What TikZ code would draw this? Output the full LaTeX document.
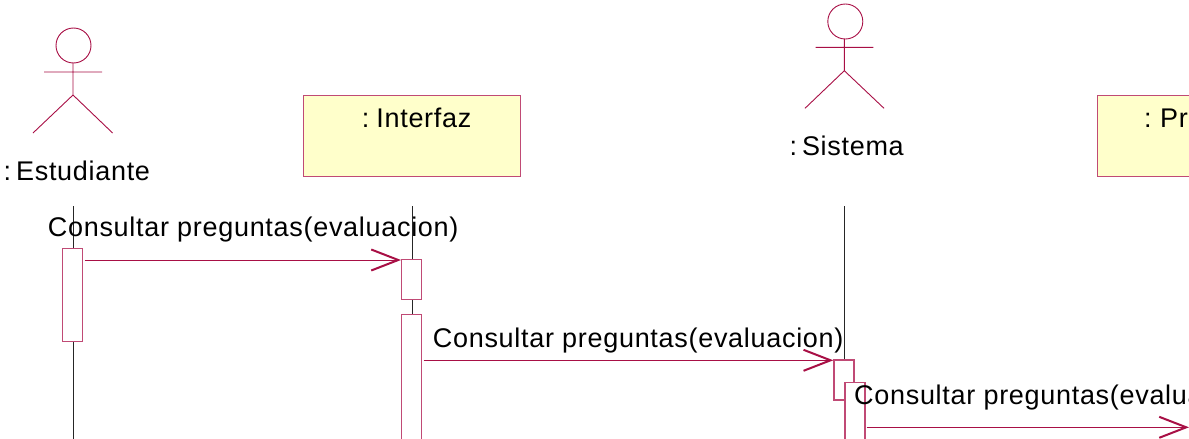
\documentclass[tikz,border=0pt]{standalone}
\usepackage{fontspec}
\setmainfont{Liberation Sans}
\newfontfamily\msgfont[LetterSpace=2.6]{Liberation Sans}
\usetikzlibrary{arrows.meta}
\definecolor{umlred}{HTML}{A80F45}
\definecolor{umlpink}{HTML}{C04A75}
\definecolor{umlyellow}{HTML}{FFFFCB}
\tikzset{
  umlline/.style={umlred,line width=0.9pt},
  lifeline/.style={black!85,line width=1pt},
  msgline/.style={umlred,line width=1pt,-{Straight Barb[length=27pt,width=21pt,line width=2pt]}},
  actbox/.style={draw=umlpink,fill=white,line width=1.2pt,minimum width=20pt,inner sep=0pt,anchor=north west},
  classbox/.style={draw=umlpink,fill=umlyellow,line width=1.2pt,inner sep=0pt,minimum height=80.5pt,anchor=north west},
  umltext/.style={inner sep=0pt,anchor=base west,font=\msgfont\fontsize{27}{32}\selectfont},
}
\begin{document}
\begin{tikzpicture}[x=1pt,y=-1pt]
    \useasboundingbox (0,0) rectangle (1189,439);
    \clip (0,0) rectangle (1189,439);
    % Coordinates
    \coordinate (L1top) at (73,206);
    \coordinate (L1bot) at (73,439);
    \coordinate (L2top) at (412,206);
    \coordinate (L2bot) at (412,314);
    \coordinate (L3top) at (844.3,206);
    \coordinate (L3bot) at (844.3,359.3);
    \coordinate (M1a) at (84.5,260);
    \coordinate (M1b) at (401,260);
    \coordinate (M2a) at (423.6,360.3);
    \coordinate (M2b) at (833.3,360.3);
    \coordinate (M3a) at (866.7,427.3);
    \coordinate (M3b) at (1189,427.3);
    % Lifelines
    \draw[lifeline] (L1top) -- (L1bot);
    \draw[lifeline] (L2top) -- (L2bot);
    \draw[lifeline] (L3top) -- (L3bot);
    % Actors
    \draw[umlline] (73.5,45.5) circle (17.5);
    \draw[umlline] (73,63) -- (73,95) (44,72) -- (102,72) (33,133) -- (73,95) -- (112.6,133);
    \draw[umlline] (845.3,21.5) circle (17.5);
    \draw[umlline] (844.3,39) -- (844.3,70.7) (815.7,47.3) -- (873.3,47.3) (805,108.3) -- (844.3,70.7) -- (884,108.3);
    % Boxes
    \node[classbox,minimum width=217pt] (interfaz) at (302.5,95) {};
    \node[classbox,minimum width=120pt] (pregunta) at (1097,95) {};
    % Activations
    \node[actbox,minimum height=92.7pt] (act1) at (61.5,248) {};
    \node[actbox,minimum height=40pt] (act2) at (401,258.7) {};
    \node[actbox,minimum height=140pt] (act3) at (401,314) {};
    \node[actbox,minimum height=40pt] (act4) at (833.3,359.3) {};
    \node[actbox,minimum height=80pt] (act5) at (844.3,381.7) {};
    % Messages
    \draw[msgline] (M1a) -- (M1b);
    \draw[msgline] (M2a) -- (M2b);
    \draw[msgline] (M3a) -- (M3b);
    % Labels
    \node[umltext] (estudiante) at (3.4,180) {:\hspace{5pt}Estudiante};
    \node[umltext] (interfazlabel) at (361.7,127.7) {:\hspace{7pt}Interfaz};
    \node[umltext] (sistema) at (789.3,155.7) {:\hspace{5pt}Sistema};
    \node[umltext] (pregunta label) at (1144,127.7) {:\hspace{8.5pt}Pr};
    \node[umltext] (msg1) at (47.7,236.7) {Consultar preguntas(evaluacion)};
    \node[umltext] (msg2) at (432.7,347.7) {Consultar preguntas(evaluacion)};
    \node[umltext] (msg3) at (854,404) {Consultar preguntas(evalua};
\end{tikzpicture}
\end{document}
